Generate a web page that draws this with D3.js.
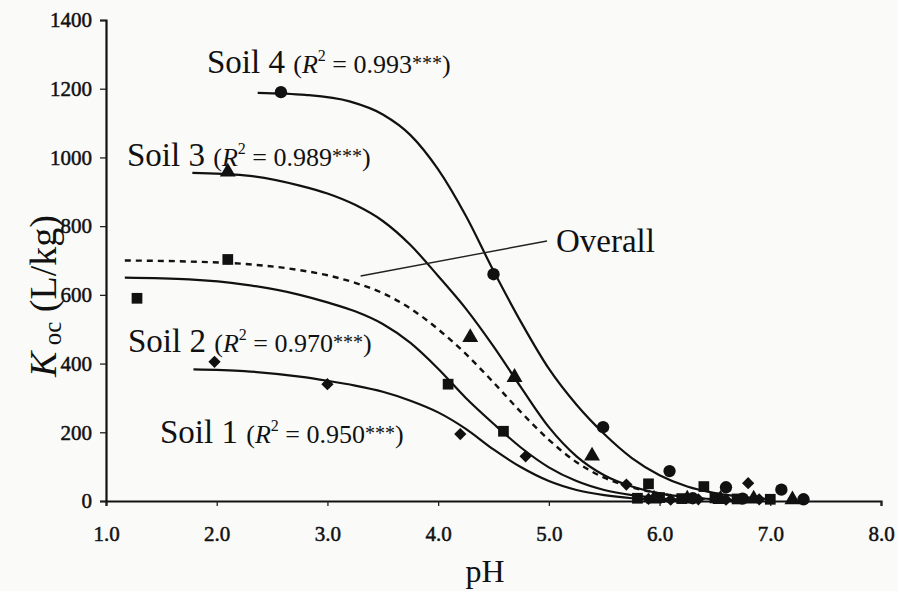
<!DOCTYPE html>
<html>
<head>
<meta charset="utf-8">
<script src="https://cdn.jsdelivr.net/npm/d3@7"></script>
<style>
  body { margin: 0; background: #fafaf9; }
  svg text { font-family: "Liberation Serif", "Times New Roman", Times, serif; fill: #111; }
</style>
</head>
<body>
<svg id="chart" width="898" height="591"></svg>
<script>
// measured points, [pH, Koc]
var soil1Pts = [[1.98, 405], [3.0, 340], [4.2, 195], [4.79, 130], [5.7, 48], [6.8, 52],
  [5.9, 6], [6.1, 4], [6.35, 5], [6.6, 4], [6.9, 5]];
var soil2Pts = [[1.28, 590], [2.1, 703], [4.09, 340], [4.59, 203], [5.9, 50], [6.4, 42],
  [5.8, 8], [6.0, 10], [6.2, 7], [6.5, 9], [6.7, 6], [7.0, 5]];
var soil3Pts = [[2.1, 958], [4.29, 476], [4.69, 360], [5.39, 131],
  [5.95, 6], [6.25, 6], [6.55, 5], [6.85, 6], [7.2, 4]];
var soil4Pts = [[2.58, 1190], [4.5, 660], [5.49, 215], [6.09, 87], [6.6, 40], [7.1, 33],
  [6.3, 8], [6.75, 7], [7.3, 5]];

// fitted curves, [pH, Koc]
var soil1Fit = [[1.79, 383], [2.25, 378], [2.75, 362], [3.0, 350], [3.25, 336], [3.5, 318],
  [3.75, 292], [4.0, 258], [4.25, 210], [4.5, 150], [4.75, 98], [5.0, 58], [5.25, 32],
  [5.5, 17], [5.75, 8], [6.0, 3], [6.25, 1]];
var soil2Fit = [[1.17, 650], [1.75, 645], [2.25, 630], [2.75, 600], [3.0, 578], [3.25, 552],
  [3.5, 515], [3.75, 460], [4.0, 385], [4.25, 300], [4.5, 225], [4.75, 155], [5.0, 98],
  [5.25, 58], [5.5, 32], [5.75, 17], [6.0, 8], [6.25, 3]];
var soil3Fit = [[1.78, 955], [2.25, 948], [2.75, 918], [3.0, 895], [3.25, 862], [3.5, 815],
  [3.75, 745], [4.0, 655], [4.25, 560], [4.5, 450], [4.75, 330], [5.0, 215], [5.25, 130],
  [5.5, 75], [5.75, 42], [6.0, 22], [6.25, 11], [6.5, 5], [6.75, 2]];
var soil4Fit = [[2.37, 1188], [2.8, 1182], [3.2, 1163], [3.5, 1125], [3.75, 1065], [4.0, 965],
  [4.25, 830], [4.5, 670], [4.75, 520], [5.0, 385], [5.25, 280], [5.5, 195], [5.75, 125],
  [6.0, 75], [6.25, 42], [6.5, 23], [6.75, 12], [7.0, 5]];
var overallFit = [[1.17, 700], [1.75, 697], [2.25, 690], [2.75, 672], [3.0, 657], [3.25, 635],
  [3.5, 605], [3.75, 560], [4.0, 500], [4.25, 428], [4.5, 345], [4.75, 258], [5.0, 178],
  [5.25, 113], [5.5, 68], [5.75, 40], [6.0, 22], [6.25, 11], [6.5, 4]];

var xTicks = [1, 2, 3, 4, 5, 6, 7, 8];
var yTicks = [0, 200, 400, 600, 800, 1000, 1200, 1400];

var soilNames = ["Soil 1", "Soil 2", "Soil 3", "Soil 4"];
var soilR2 = ["0.950", "0.970", "0.989", "0.993"];

var serif = '"Liberation Serif", "Times New Roman", Times, serif';
var svg = d3.select("#chart").attr("font-family", serif);

var x = d3.scaleLinear().domain([1, 8]).range([106, 881]);
var y = d3.scaleLinear().domain([0, 1400]).range([501, 20]);

// axes
var xAxis = d3.axisBottom(x).tickValues(xTicks).tickSize(5).tickPadding(20)
  .tickFormat(d3.format(".1f"));
var yAxis = d3.axisLeft(y).tickValues(yTicks).tickSize(6).tickPadding(8)
  .tickFormat(d3.format("d"));

var gx = svg.append("g").attr("transform", "translate(0," + y(0) + ")").call(xAxis);
var gy = svg.append("g").attr("transform", "translate(" + x(1) + ",0)").call(yAxis);

[gx, gy].forEach(function(g) {
  g.attr("font-family", serif).attr("font-size", 21);
  g.select(".domain").attr("stroke", "#111").attr("stroke-width", 2.2);
  g.selectAll(".tick line").attr("stroke", "#222").attr("stroke-width", 1.3);
  g.selectAll(".tick text").attr("fill", "#111")
    .attr("stroke", "#111").attr("stroke-width", 0.5);
});

// curves
var line = d3.line()
  .x(function(d) { return x(d[0]); })
  .y(function(d) { return y(d[1]); })
  .curve(d3.curveMonotoneX);

[soil1Fit, soil2Fit, soil3Fit, soil4Fit].forEach(function(fit) {
  svg.append("path").datum(fit).attr("d", line)
    .attr("fill", "none").attr("stroke", "#111").attr("stroke-width", 2.2);
});
svg.append("path").datum(overallFit).attr("d", line)
  .attr("fill", "none").attr("stroke", "#111").attr("stroke-width", 2.4)
  .attr("stroke-dasharray", "6,5");

// markers
function drawPts(pts, type, size, rot) {
  svg.append("g").selectAll("path")
    .data(pts)
    .enter().append("path")
    .attr("d", d3.symbol().type(type).size(size))
    .attr("fill", "#111")
    .attr("transform", function(d) {
      return "translate(" + x(d[0]) + "," + y(d[1]) + ") rotate(" + rot + ")";
    });
}
drawPts(soil1Pts, d3.symbolSquare, 75, 45);
drawPts(soil2Pts, d3.symbolSquare, 115, 0);
drawPts(soil3Pts, d3.symbolTriangle, 110, 0);
drawPts(soil4Pts, d3.symbolCircle, 120, 0);

// soil labels
var labelPos = [[160, 443], [128, 352], [127, 166], [207, 73]];
labelPos.forEach(function(p, i) {
  var t = svg.append("text").attr("x", p[0]).attr("y", p[1]).style("font-size", "33px");
  t.append("tspan").text(soilNames[i] + " ");
  t.append("tspan").style("font-size", "26px").text("(");
  t.append("tspan").style("font-size", "26px").style("font-style", "italic").text("R");
  t.append("tspan").style("font-size", "16px").attr("dy", -12).text("2");
  t.append("tspan").style("font-size", "26px").attr("dy", 12).text(" = " + soilR2[i]);
  t.append("tspan").style("font-size", "20px").attr("dy", -3).text("***");
  t.append("tspan").style("font-size", "26px").attr("dy", 3).text(")");
});

// overall leader
svg.append("line").attr("x1", x(3.30)).attr("y1", y(655)).attr("x2", 547).attr("y2", 241)
  .attr("stroke", "#222").attr("stroke-width", 1.4);
svg.append("text").attr("x", 556).attr("y", 252).style("font-size", "33px").text("Overall");

// axis titles
svg.append("text").attr("x", 485).attr("y", 582).attr("text-anchor", "middle")
  .style("font-size", "32px").text("pH");

var yt = svg.append("text").attr("transform", "translate(56,296) rotate(-90)")
  .attr("text-anchor", "middle").style("font-size", "38px");
yt.append("tspan").style("font-style", "italic").text("K");
yt.append("tspan").style("font-size", "25px").attr("dy", 5).text(" oc");
yt.append("tspan").attr("dy", -5).text(" (L/kg)");
</script>
</body>
</html>
